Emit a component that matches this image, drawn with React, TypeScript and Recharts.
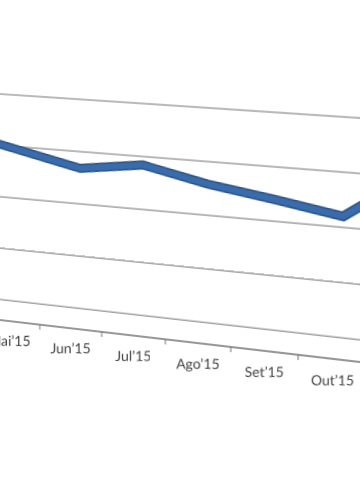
import React from 'react';
import { CartesianGrid, Line, LineChart, XAxis, YAxis } from 'recharts';

const months = ['Abr’15', 'Mai’15', 'Jun’15', 'Jul’15', 'Ago’15', 'Set’15', 'Out’15', 'Nov’15'];
const values = [16.0, 14.7, 13.4, 14.2, 12.9, 12.0, 11.0, 15.2];
const yTicks = [0, 5, 10, 15, 20];

const data = months.map((m, i) => ({ month: m, value: values[i] }));

// The chart is drawn flat, then bent onto the slanted back wall with a projective transform.
const W = 560;
const H = 379;
const SRC = [
  [20, 100],
  [540, 100],
  [540, 329],
  [20, 329],
];
// where the plot corners land on the page
const DST = [
  [-70.4, 89.3],
  [449.7, 124.0],
  [449.7, 372.5],
  [-70.4, 311.8],
];

function solveHomography(src: number[][], dst: number[][]) {
  const A: number[][] = [];
  const b: number[] = [];
  for (let i = 0; i < 4; i++) {
    const [x, y] = src[i];
    const [u, v] = dst[i];
    A.push([x, y, 1, 0, 0, 0, -x * u, -y * u]);
    b.push(u);
    A.push([0, 0, 0, x, y, 1, -x * v, -y * v]);
    b.push(v);
  }
  const n = 8;
  for (let c = 0; c < n; c++) {
    let p = c;
    for (let r = c + 1; r < n; r++) if (Math.abs(A[r][c]) > Math.abs(A[p][c])) p = r;
    [A[c], A[p]] = [A[p], A[c]];
    [b[c], b[p]] = [b[p], b[c]];
    for (let r = 0; r < n; r++) {
      if (r === c) continue;
      const f = A[r][c] / A[c][c];
      for (let k = c; k < n; k++) A[r][k] -= f * A[c][k];
      b[r] -= f * b[c];
    }
  }
  return b.map((v, i) => v / A[i][i]);
}

const h = solveHomography(SRC, DST);
const [h11, h12, h13, h21, h22, h23, h31, h32] = h;
const matrix = `matrix3d(${h11},${h21},0,${h31},${h12},${h22},0,${h32},0,0,1,0,${h13},${h23},0,1)`;

// undo the local distortion so tick labels stay upright
function inverseJacobian(x: number, y: number) {
  const w = h31 * x + h32 * y + 1;
  const X = (h11 * x + h12 * y + h13) / w;
  const Y = (h21 * x + h22 * y + h23) / w;
  const a = (h11 - X * h31) / w;
  const c = (h12 - X * h32) / w;
  const b = (h21 - Y * h31) / w;
  const d = (h22 - Y * h32) / w;
  const det = a * d - b * c;
  return [d / det, -b / det, -c / det, a / det];
}

const MonthTick = (props: any) => {
  const { x, y, payload } = props;
  const tx = x - 10;
  const ty = y + 25;
  const [a, b, c, d] = inverseJacobian(tx, ty - 5);
  return (
    <g>
      <line x1={tx - 32.5} y1={y} x2={tx - 32.5} y2={y + 5} stroke="#777" strokeWidth={1} />
      <g transform={`translate(${tx} ${ty}) matrix(${a} ${b} ${c} ${d} 0 0) translate(${-tx} ${-ty})`}>
        <text x={tx} y={ty} textAnchor="middle" fill="#404040" fontSize={14} fontFamily="Lato, 'Noto Sans', sans-serif">
          {payload.value}
        </text>
      </g>
    </g>
  );
};

export default function App() {
  return (
    <div style={{ position: 'fixed', left: 0, top: 0, width: 360, height: 504, overflow: 'hidden', background: '#fff' }}>
      <div style={{ position: 'absolute', left: 0, top: 0, width: W, height: H, transformOrigin: '0 0', transform: matrix }}>
        <LineChart width={W} height={H} data={data} margin={{ top: 100, right: 20, left: 20, bottom: 10 }}>
          <CartesianGrid vertical={false} stroke="#747474" strokeWidth={1} />
          <XAxis
            dataKey="month"
            height={40}
            padding={{ left: 32.5, right: 32.5 }}
            axisLine={{ stroke: '#747474' }}
            tickLine={false}
            tickSize={0}
            tickMargin={0}
            interval={0}
            tick={<MonthTick />}
          />
          <YAxis hide type="number" domain={[-2, 20]} ticks={yTicks} />
          <Line dataKey="value" stroke="#2a5486" strokeWidth={9} dot={false} isAnimationActive={false} />
          <Line dataKey="value" stroke="#3a6bab" strokeWidth={6} dot={false} isAnimationActive={false} />
        </LineChart>
      </div>
    </div>
  );
}
